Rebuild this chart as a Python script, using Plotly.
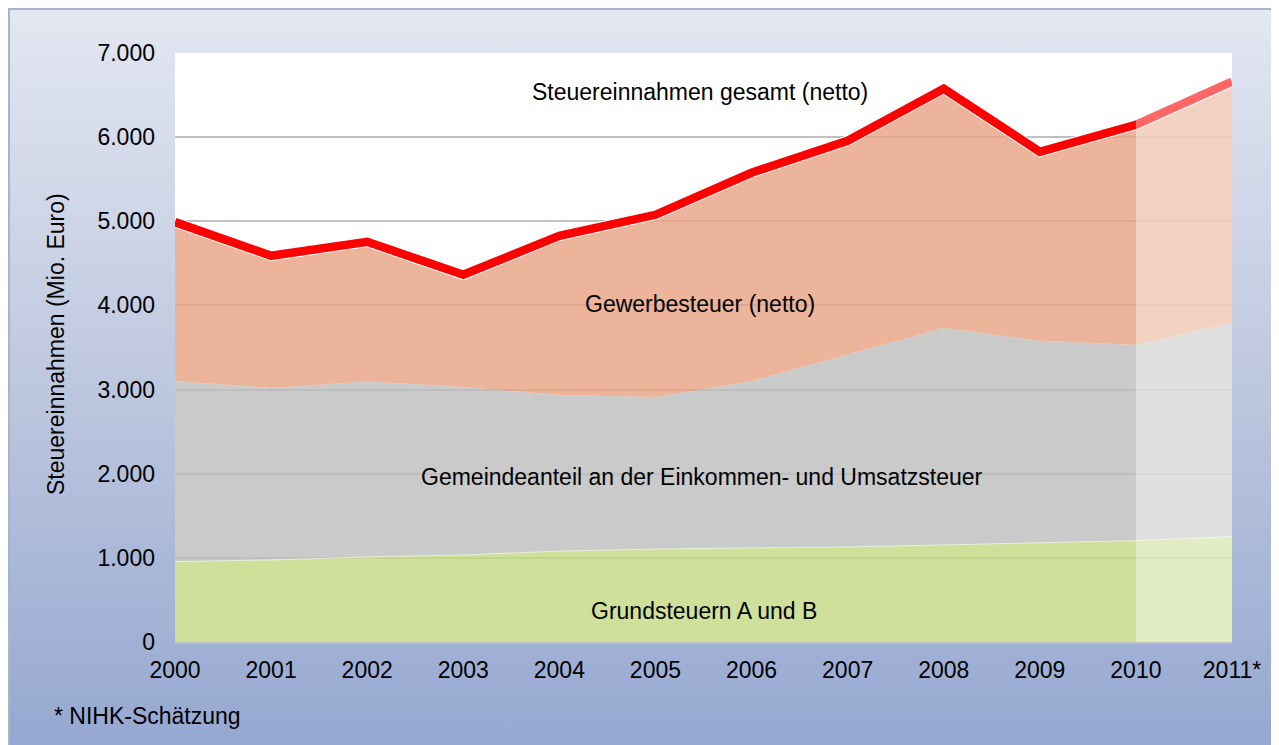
import base64
import plotly.graph_objects as go

# ---------------- data ----------------
years = [2000, 2001, 2002, 2003, 2004, 2005, 2006, 2007, 2008, 2009, 2010, 2011]
year_labels = ["2000", "2001", "2002", "2003", "2004", "2005", "2006", "2007",
               "2008", "2009", "2010", "2011*"]
grundsteuern = [955, 975, 1010, 1035, 1080, 1105, 1118, 1130, 1153, 1177, 1205, 1252]
gemeindeanteil = [2145, 2045, 2085, 1995, 1855, 1808, 1982, 2282, 2580, 2402, 2325, 2541]
gewerbesteuer = [1890, 1570, 1661, 1334, 1893, 2164, 2477, 2545, 2843, 2247, 2617, 2866]
gesamt = [4990, 4590, 4756, 4364, 4828, 5077, 5577, 5957, 6576, 5826, 6147, 6659]
y_tick_vals = [0, 1000, 2000, 3000, 4000, 5000, 6000, 7000]
y_tick_labels = ["0", "1.000", "2.000", "3.000", "4.000", "5.000", "6.000", "7.000"]
estimate_start, estimate_end = 2010, 2011

# ---------------- geometry (page has an 8px body margin) ----------------
OFF = 8
W, H = 1279 - OFF, 745 - OFF
L, T = 175 - OFF, 53 - OFF
R, B = W - (1232 - OFF), H - (642 - OFF)
PW, PH = W - L - R, H - T - B


def px_x(sx):
    return (sx - OFF - L) / PW


def px_y(sy):
    return (H - B - (sy - OFF)) / PH


FONT = "Liberation Sans, Arial, sans-serif"

fig = go.Figure()

fig.add_trace(go.Scatter(
    x=years, y=grundsteuern, stackgroup="s", mode="lines",
    line=dict(width=1, color="rgba(235,240,220,0.9)"),
    fillcolor="rgba(194,216,129,0.8)", hoverinfo="skip", name="Grundsteuern A und B"))
fig.add_trace(go.Scatter(
    x=years, y=gemeindeanteil, stackgroup="s", mode="lines",
    line=dict(width=0),
    fillcolor="rgba(189,189,189,0.8)", hoverinfo="skip", name="Gemeindeanteil"))
fig.add_trace(go.Scatter(
    x=years, y=gewerbesteuer, stackgroup="s", mode="lines",
    line=dict(width=10.5, color="white"),
    fillcolor="rgba(231,161,129,0.8)", hoverinfo="skip", name="Gewerbesteuer"))
fig.add_trace(go.Scatter(
    x=years, y=gesamt, mode="lines",
    line=dict(width=8.5, color="#FF0000"), hoverinfo="skip", name="gesamt"))

# gradient background
svg = (
    '<svg xmlns="http://www.w3.org/2000/svg" width="100" height="100" preserveAspectRatio="none" viewBox="0 0 100 100">'
    '<defs><linearGradient id="g" x1="0" y1="0" x2="0" y2="1">'
    '<stop offset="0" stop-color="#E3E7F1"/>'
    '<stop offset="0.5" stop-color="#BEC8DF"/>'
    '<stop offset="1" stop-color="#96A8D1"/>'
    '</linearGradient></defs>'
    '<rect x="0" y="0" width="100" height="100" fill="url(#g)"/></svg>'
)
src = "data:image/svg+xml;base64," + base64.b64encode(svg.encode()).decode()

fig.update_layout(
    images=[dict(source=src, xref="paper", yref="paper",
                 x=-L / PW, y=1 + T / PH, sizex=W / PW, sizey=H / PH,
                 xanchor="left", yanchor="top", sizing="stretch", layer="below")],
)

shapes = [
    # white plot area
    dict(type="rect", xref="paper", yref="paper", x0=0, x1=1, y0=0, y1=1,
         fillcolor="white", line=dict(width=0), layer="below"),
    # outer chart border (top and left)
    dict(type="line", xref="paper", yref="paper", x0=-L / PW, x1=(W - L) / PW,
         y0=1 + (T - 1) / PH, y1=1 + (T - 1) / PH,
         line=dict(color="#A8B4CC", width=2), layer="above"),
    dict(type="line", xref="paper", yref="paper", x0=-(L - 1) / PW, x1=-(L - 1) / PW,
         y0=1 + T / PH, y1=-B / PH,
         line=dict(color="#A8B4CC", width=2), layer="above"),
    # estimate overlay
    dict(type="rect", xref="x", yref="y", x0=estimate_start, x1=estimate_end, y0=0, y1=7000,
         fillcolor="rgba(255,255,255,0.4)", line=dict(width=0), layer="above"),
]
fig.update_layout(shapes=shapes)

ann_font = dict(family=FONT, size=23, color="black")
annotations = [
    dict(text="Steuereinnahmen gesamt (netto)", x=px_x(700), y=px_y(92)),
    dict(text="Gewerbesteuer (netto)", x=px_x(700), y=px_y(304)),
    dict(text="Gemeindeanteil an der Einkommen- und Umsatzsteuer", x=px_x(702), y=px_y(477)),
    dict(text="Grundsteuern A und B", x=px_x(704), y=px_y(611)),
    dict(text="Steuereinnahmen (Mio. Euro)", x=px_x(56), y=px_y(344), textangle=-90),
]
for a in annotations:
    a.update(xref="paper", yref="paper", showarrow=False, font=ann_font,
             xanchor="center", yanchor="middle")
annotations.append(dict(text="* NIHK-Schätzung", x=px_x(52), y=px_y(716), xref="paper", yref="paper",
                        showarrow=False, font=ann_font, xanchor="left", yanchor="middle"))
fig.update_layout(annotations=annotations)

fig.update_layout(
    width=W, height=H,
    margin=dict(l=L, r=R, t=T, b=B, pad=0),
    paper_bgcolor="#C8D0E4",
    plot_bgcolor="rgba(0,0,0,0)",
    showlegend=False,
    font=dict(family=FONT, size=23, color="black"),
    xaxis=dict(range=[years[0], years[-1]], tickvals=years, ticktext=year_labels,
               showgrid=False, zeroline=False, showline=True, linecolor="#C0C0C0", linewidth=1.5,
               ticks="", ticklabelstandoff=7, tickfont=dict(family=FONT, size=23),
               fixedrange=True),
    yaxis=dict(range=[0, 7000], tickvals=y_tick_vals, ticktext=y_tick_labels,
               showgrid=True, gridcolor="#C0C0C0", gridwidth=1.5, zeroline=False,
               showline=False, ticks="", ticklabelstandoff=19,
               tickfont=dict(family=FONT, size=23), fixedrange=True),
)

fig.write_html("out.html")
